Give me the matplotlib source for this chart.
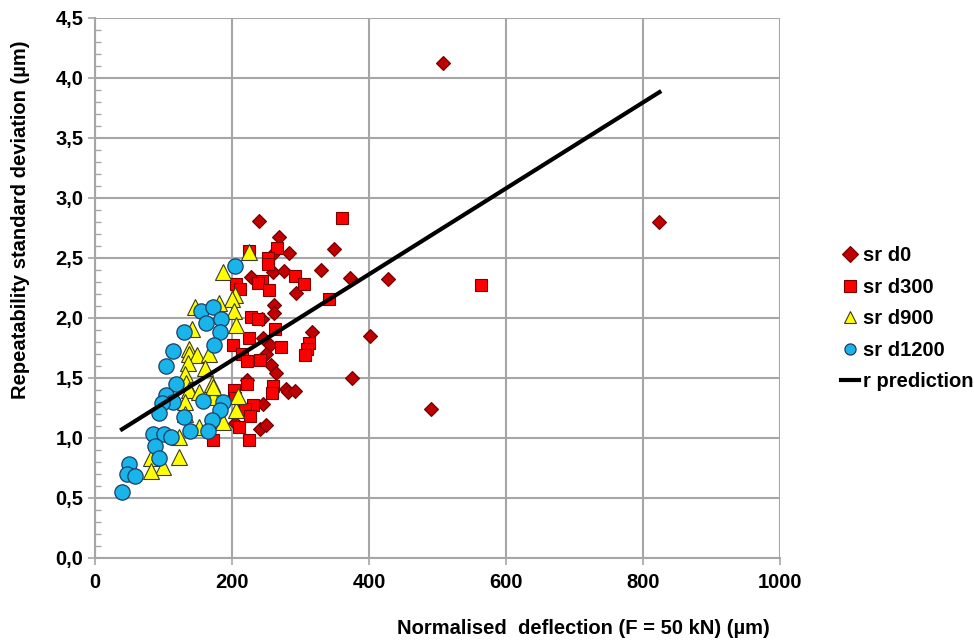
import matplotlib
matplotlib.use("Agg")
import matplotlib.pyplot as plt
from matplotlib.ticker import MultipleLocator, FuncFormatter

plt.rcParams['font.family'] = ['Liberation Sans', 'DejaVu Sans']
plt.rcParams['font.weight'] = 'bold'

# sr d0 (diamonds)
d0_x = [508, 824, 491, 349, 372, 427, 401, 375, 239, 269, 283, 258, 259, 276, 329, 227,
        293, 261, 261, 244, 317, 245, 255, 250, 256, 264, 221, 278, 282, 291, 245, 204,
        240, 249]
d0_y = [4.12, 2.80, 1.24, 2.57, 2.33, 2.32, 1.85, 1.50, 2.81, 2.67, 2.54, 2.52, 2.38, 2.39, 2.40, 2.34,
        2.21, 2.11, 2.04, 1.99, 1.88, 1.83, 1.77, 1.70, 1.61, 1.54, 1.48, 1.41, 1.38, 1.39, 1.28, 1.12,
        1.07, 1.11]

# sr d300 (squares)
d300_x = [564, 361, 342, 224, 265, 253, 253, 292, 305, 243, 238, 254, 205, 211, 227, 238,
          262, 225, 201, 271, 312, 309, 307, 214, 222, 240, 221, 259, 258, 202, 204, 231,
          216, 218, 226, 210, 224, 172]
d300_y = [2.27, 2.83, 2.16, 2.56, 2.58, 2.50, 2.45, 2.35, 2.28, 2.31, 2.29, 2.23, 2.28, 2.24, 2.01, 1.99,
          1.91, 1.83, 1.77, 1.76, 1.79, 1.74, 1.69, 1.70, 1.64, 1.65, 1.45, 1.43, 1.37, 1.40, 1.33, 1.27,
          1.23, 1.24, 1.18, 1.09, 0.98, 0.98]

# sr d900 (triangles)
d900_x = [224, 187, 204, 199, 202, 146, 180, 206, 141, 137, 137, 149, 166, 136, 160, 131,
          171, 133, 137, 151, 131, 172, 205, 131, 209, 152, 186, 123, 81, 123, 99, 81, 172]
d900_y = [2.55, 2.38, 2.19, 2.16, 2.06, 2.09, 2.12, 1.94, 1.91, 1.74, 1.70, 1.69, 1.70, 1.62, 1.58, 1.53,
          1.45, 1.46, 1.40, 1.38, 1.30, 1.34, 1.23, 1.20, 1.35, 1.09, 1.13, 1.01, 0.83, 0.84, 0.76, 0.72, 1.42]

# sr d1200 (circles)
d1200_x = [204, 155, 172, 162, 184, 182, 130, 173, 114, 104, 118, 104, 114, 97, 93, 158,
           187, 182, 129, 170, 138, 165, 84, 100, 110, 87, 93, 50, 46, 58, 39]
d1200_y = [2.43, 2.06, 2.09, 1.96, 1.99, 1.88, 1.88, 1.77, 1.72, 1.60, 1.45, 1.36, 1.30, 1.29, 1.21, 1.31,
           1.30, 1.23, 1.17, 1.15, 1.06, 1.06, 1.03, 1.03, 1.01, 0.93, 0.83, 0.78, 0.70, 0.68, 0.55]

# r prediction
pred_x = [39, 824]
pred_y = [1.07, 3.88]

fig = plt.figure(figsize=(9.74, 6.44), dpi=100)
ax = fig.add_axes([0.0978, 0.134, 0.703, 0.8385])

ax.plot(d0_x, d0_y, linestyle='none', marker='D', ms=7.5, mfc='#c00000', mec='#6b0000',
        mew=0.8, label='sr d0', zorder=3)
ax.plot(d300_x, d300_y, linestyle='none', marker='s', ms=9, mfc='#ff0000', mec='#7a0000',
        mew=0.8, label='sr d300', zorder=3)
ax.plot(d900_x, d900_y, linestyle='none', marker='^', ms=11, mfc='#ffff00', mec='#3a3a20',
        mew=0.8, label='sr d900', zorder=3)
ax.plot(d1200_x, d1200_y, linestyle='none', marker='o', ms=11, mfc='#18b4ea', mec='#1b3f66',
        mew=0.9, label='sr d1200', zorder=3)
ax.plot(pred_x, pred_y, color='black', lw=3, label='r prediction', zorder=4)

ax.set_xlim(0, 1000)
ax.set_ylim(0, 4.5)
ax.xaxis.set_major_locator(MultipleLocator(200))
ax.yaxis.set_major_locator(MultipleLocator(0.5))
ax.yaxis.set_minor_locator(MultipleLocator(0.1))
ax.yaxis.set_major_formatter(FuncFormatter(lambda v, p: f"{v:.1f}".replace('.', ',')))

ax.grid(True, color='#a6a6a6', lw=1.5, zorder=0)
ax.set_axisbelow(True)
for s in ['top', 'right']:
    ax.spines[s].set_visible(False)
for s in ['left', 'bottom']:
    ax.spines[s].set_color('#a6a6a6')
    ax.spines[s].set_linewidth(1.5)

ax.tick_params(axis='both', which='major', labelsize=14.5, color='#a6a6a6', length=5, width=1.2)
ax.tick_params(axis='x', which='major', pad=6)
ax.tick_params(axis='y', which='minor', direction='in', length=4, color='#a6a6a6', width=1)
for lab in ax.get_xticklabels() + ax.get_yticklabels():
    lab.set_fontweight('bold')

ax.set_xlabel('Normalised  deflection (F = 50 kN) (µm)', fontsize=14.5, fontweight='bold')
ax.set_ylabel('Repeatability standard deviation (µm)', fontsize=14.5, fontweight='bold')
ax.xaxis.set_label_coords(0.713, -0.113)
ax.yaxis.set_label_coords(-0.095, 0.625)

leg = fig.legend(loc='center left', bbox_to_anchor=(0.845, 0.505), frameon=False,
                 labelspacing=0.62, handlelength=0.9, handletextpad=0.2,
                 prop={'weight': 'bold', 'size': 14.5})
for h in leg.legend_handles[:4]:
    h.set_markersize(8)

fig.savefig('out.png', dpi=100)
